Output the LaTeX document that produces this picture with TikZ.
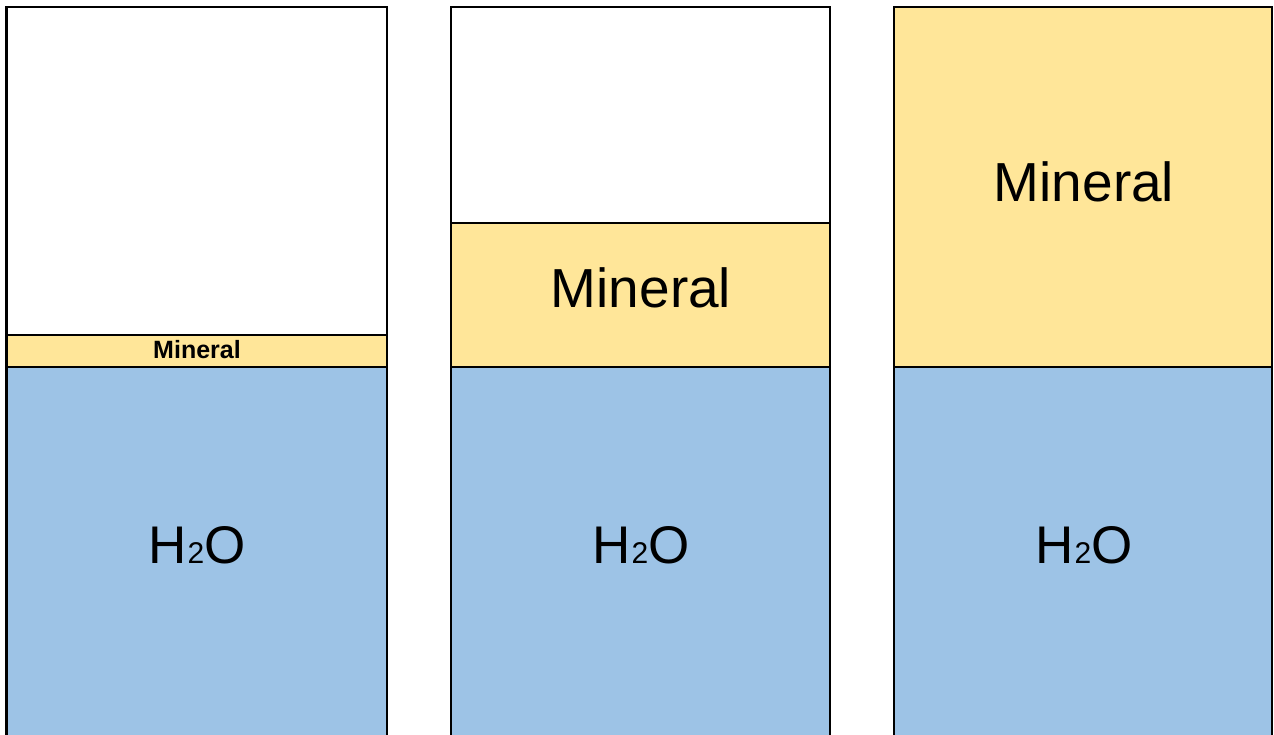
\documentclass[tikz,border=0pt]{standalone}
\usepackage{fontspec}
\setmainfont{Liberation Sans}
\definecolor{mineralfill}{HTML}{FFE699}
\definecolor{waterfill}{HTML}{9DC3E6}
\begin{document}
\begin{tikzpicture}[x=1pt,y=-1pt,
  layer/.style={draw=black,line width=2.5pt},
  bigtext/.style={font=\fontsize{55}{60}\selectfont,inner sep=0pt},
  smalltext/.style={font=\bfseries\fontsize{25}{28}\selectfont,inner sep=0pt},
  watertext/.style={font=\fontsize{53}{60}\selectfont,inner sep=0pt}]
\useasboundingbox (0,0) rectangle (1274,735);
\clip (0,0) rectangle (1274,735);
\newcommand{\water}{H\kern1pt{\fontsize{30}{30}\selectfont 2}O}
% column 1: thin mineral layer
\draw[layer,fill=white] (6.5,7) rectangle (387,335);
\draw[layer,fill=mineralfill] (6.5,335) rectangle (387,367);
\draw[layer,fill=waterfill] (6.5,367) rectangle (387,760);
\node[smalltext] (m1) at (197,350) {Mineral};
\node[watertext] (w1) at (197,545) {\water};
% column 2: medium mineral layer
\draw[layer,fill=white] (451,7) rectangle (830,223);
\draw[layer,fill=mineralfill] (451,223) rectangle (830,367);
\draw[layer,fill=waterfill] (451,367) rectangle (830,760);
\node[bigtext] (m2) at (641,288) {Mineral};
\node[watertext] (w2) at (641,545) {\water};
% column 3: full mineral layer
\draw[layer,fill=mineralfill] (894,7) rectangle (1272,367);
\draw[layer,fill=waterfill] (894,367) rectangle (1272,760);
\node[bigtext] (m3) at (1084,182) {Mineral};
\node[watertext] (w3) at (1084,545) {\water};
\end{tikzpicture}
\end{document}
